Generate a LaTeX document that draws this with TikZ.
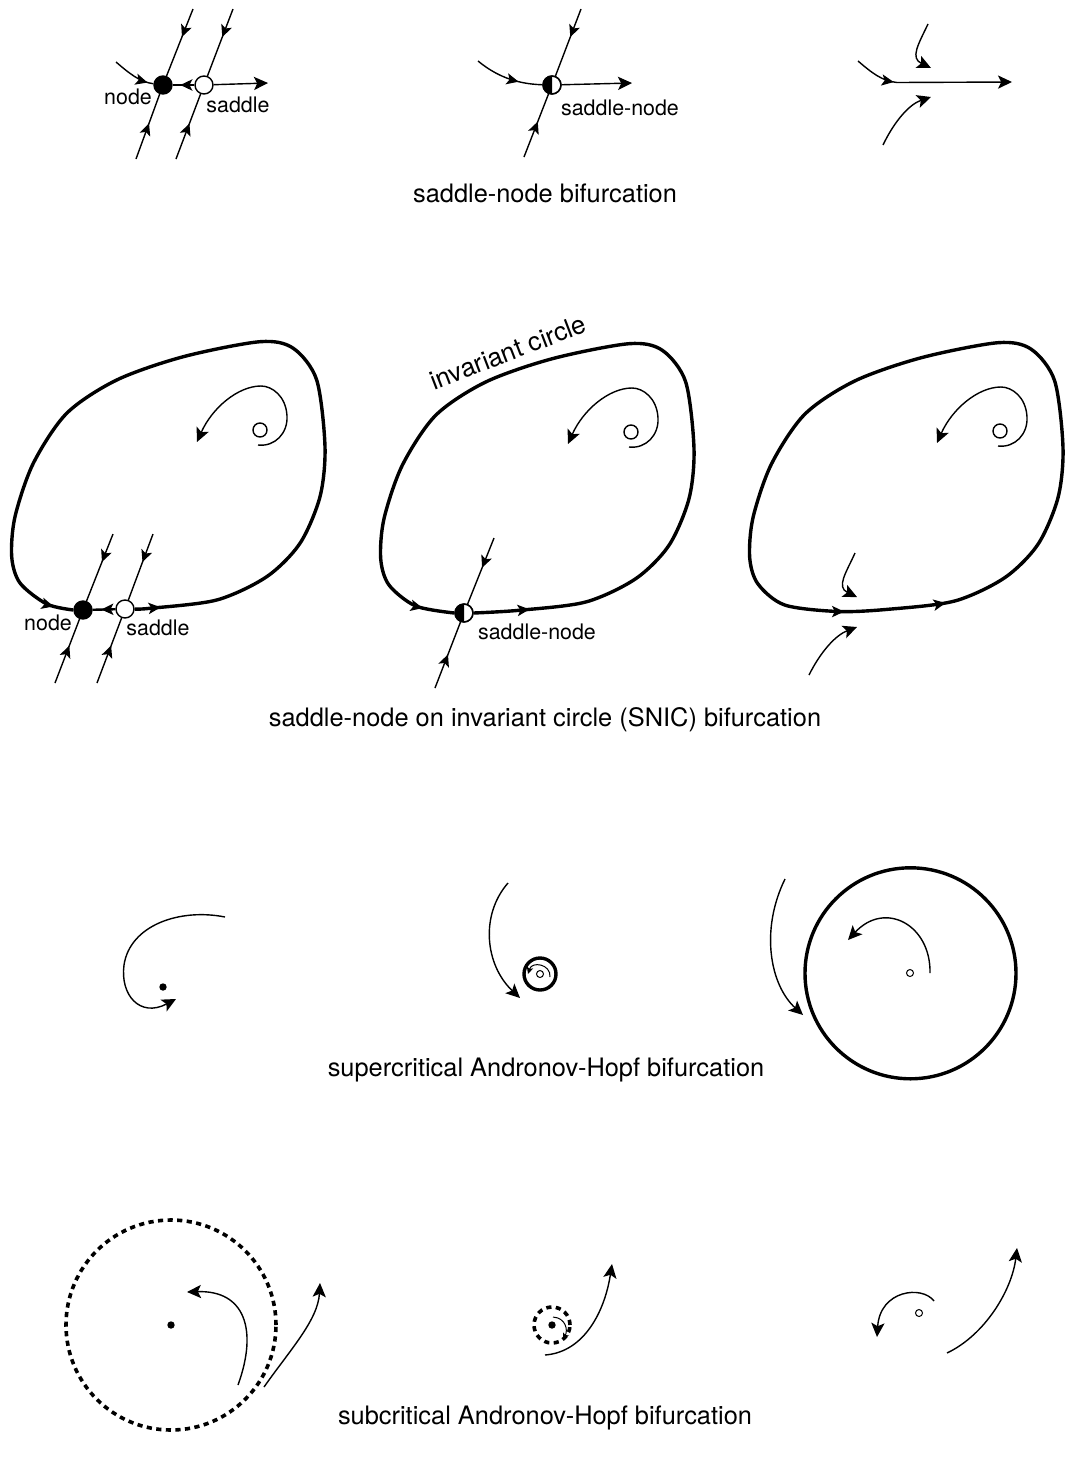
\documentclass[tikz,border=0pt]{standalone}
\usepackage{fontspec}
\setmainfont{TeX Gyre Heros}
\usetikzlibrary{arrows.meta,decorations.markings}

\newcommand{\halffill}[1]{%
  \begin{scope}
    \clip (#1.west |- #1.north) rectangle (#1.south);
    \fill (#1.center) circle[radius=4.5pt];
  \end{scope}
  \draw[line width=0.7pt] (#1.center) circle[radius=4.5pt];}

\begin{document}
\begin{tikzpicture}[x=0.5pt,y=-0.5pt,
  >={Stealth[length=6pt,width=5.6pt,inset=1.4pt]},
  flow/.style={line width=0.7pt},
  cyc/.style={line width=1.7pt},
  link/.style={line width=1.2pt},
  endtip/.style={-{Stealth[length=7pt,width=6.6pt,inset=1.6pt]}},
  smalltip/.style={-{Stealth[length=3.4pt,width=3.2pt,inset=0.7pt]}},
  midtip/.style={postaction={decorate,decoration={markings,mark=at position #1 with {\arrow{>}}}}},
  stable/.style={circle,draw,fill=black,line width=0.7pt,minimum size=9pt,inner sep=0pt},
  unstable/.style={circle,draw,fill=white,line width=0.7pt,minimum size=9pt,inner sep=0pt},
  focus/.style={circle,fill=black,minimum size=3.7pt,inner sep=0pt},
  ufocus/.style={circle,draw,fill=white,line width=0.5pt,minimum size=3.5pt,inner sep=0pt},
  lbl/.style={font=\fontsize{10.7}{12}\selectfont},
  capt/.style={font=\fontsize{12.7}{15}\selectfont},
  broken/.style={line width=1.8pt,dash pattern=on 2.6pt off 2.2pt}]
  \useasboundingbox (0,0) rectangle (1066,1462);

  % ---- saddle-node bifurcation ----
  \node[stable] (n1) at (163,85) {};
  \node[unstable] (s1) at (204,85) {};
  \coordinate (n1t) at (193,9);   \coordinate (n1b) at (136,159);
  \coordinate (s1t) at (233,9);   \coordinate (s1b) at (176,159);
  \coordinate (n1in) at (116,62); \coordinate (s1out) at (268,83);
  \draw[flow,midtip=15pt] (n1t) -- (n1);
  \draw[flow,midtip=19pt] (n1b) -- (n1);
  \draw[flow,midtip=15pt] (s1t) -- (s1);
  \draw[flow,midtip=19pt] (s1b) -- (s1);
  \draw[flow,midtip=-3pt] (n1in) .. controls (130,74) and (140,82) .. (n1);
  \draw[link,midtip=7pt] (s1) -- (n1);
  \draw[flow,endtip] (s1) -- (s1out);
  \node[lbl] (n1lbl) at (128,97) {node};
  \node[lbl] (s1lbl) at (238,105) {saddle};

  \node[unstable] (h1) at (552,85) {};
  \coordinate (h1t) at (581,9);    \coordinate (h1b) at (524,157);
  \coordinate (h1in) at (478,61);  \coordinate (h1out) at (632,83);
  \draw[flow,midtip=15pt] (h1t) -- (h1);
  \draw[flow,midtip=19pt] (h1b) -- (h1);
  \draw[flow,midtip=-12pt] (h1in) .. controls (495,75) and (515,84) .. (h1);
  \draw[flow,endtip] (h1) -- (h1out);
  \halffill{h1}
  \node[lbl] (h1lbl) at (620,108) {saddle-node};

  \coordinate (g1in) at (858,61); \coordinate (g1m) at (897,82.5);
  \coordinate (g1out) at (1012,82);
  \draw[flow,endtip,midtip=21pt] (g1in) .. controls (872,73) and (882,81) .. (g1m) -- (g1out);
  \draw[flow,endtip] (928,24) .. controls (918,45) and (910,58) .. (931,68);
  \draw[flow,endtip] (883,145) .. controls (895,120) and (910,104) .. (931,97);

  \node[capt] (cap1) at (545,193) {saddle-node bifurcation};

  % ---- SNIC bifurcation ----
  \begin{scope}
    \node[stable] (n2) at (83,610) {};
    \node[unstable] (s2) at (125,609) {};
    \coordinate (n2t) at (113,534); \coordinate (n2b) at (55,683);
    \coordinate (s2t) at (153,534); \coordinate (s2b) at (97,683);
    \draw[cyc,midtip=13pt,midtip=-10pt] plot[smooth] coordinates {(s2.east) (150,608.3) (216.7,600) (266.7,576.7) (300,543.3) (320,496.7) (325,446.7) (316.7,380) (293.3,348.3) (260,341.7) (183.3,356.7) (116.7,380) (66.7,413.3) (33.3,463.3) (15,516.7) (11.7,556.7) (20,583) (46.7,604) (n2.west)};
    \draw[link,midtip=7pt] (s2) -- (n2);
    \draw[flow,midtip=15pt] (n2t) -- (n2);
    \draw[flow,midtip=20pt] (n2b) -- (n2);
    \draw[flow,midtip=15pt] (s2t) -- (s2);
    \draw[flow,midtip=20pt] (s2b) -- (s2);
    \node[unstable,fill=none,minimum size=7pt] (u1) at (260,430) {};
    \draw[flow,endtip] (258,445) .. controls (275,447) and (288,433) .. (287,416) .. controls (286,396) and (272,386) .. (261,386) .. controls (238,386) and (212,408) .. (197,442);
    \node[lbl] (n2lbl) at (48,623) {node};
    \node[lbl] (s2lbl) at (158,628) {saddle};
  \end{scope}

  \begin{scope}[shift={(369,2)}]
    \node[unstable] (h2) at (95,611) {};
    \coordinate (h2t) at (125,536); \coordinate (h2b) at (66,686);
    \draw[cyc,midtip=28pt,midtip=-16pt] plot[smooth] coordinates {(h2.east) (150,608.3) (216.7,600) (266.7,576.7) (300,543.3) (320,496.7) (325,446.7) (316.7,380) (293.3,348.3) (260,341.7) (183.3,356.7) (116.7,380) (66.7,413.3) (33.3,463.3) (15,516.7) (11.7,556.7) (20,583) (46.7,604) (h2.west)};
    \draw[flow,midtip=16pt] (h2t) -- (h2);
    \draw[flow,midtip=18pt] (h2b) -- (h2);
    \halffill{h2}
    \node[unstable,fill=none,minimum size=7pt] (u2) at (262,430) {};
    \draw[flow,endtip] (260,445) .. controls (277,447) and (290,433) .. (289,416) .. controls (288,396) and (274,386) .. (263,386) .. controls (240,386) and (214,408) .. (199,442);
    \node[lbl] (h2lbl) at (168,630) {saddle-node};
  \end{scope}

  \begin{scope}[shift={(738,1)}]
    \draw[cyc,midtip=29pt,midtip=-22pt] plot[smooth cycle] coordinates {(100,610.5) (150,608.3) (216.7,600) (266.7,576.7) (300,543.3) (320,496.7) (325,446.7) (316.7,380) (293.3,348.3) (260,341.7) (183.3,356.7) (116.7,380) (66.7,413.3) (33.3,463.3) (15,516.7) (11.7,556.7) (20,583) (46.7,604)};
    \node[unstable,fill=none,minimum size=7pt] (u3) at (262,430) {};
    \draw[flow,endtip] (260,445) .. controls (277,447) and (290,433) .. (289,416) .. controls (288,396) and (274,386) .. (263,386) .. controls (240,386) and (214,408) .. (199,442);
    \draw[flow,endtip] (117,552) .. controls (108,572) and (98,586) .. (119,596);
    \draw[flow,endtip] (71,674) .. controls (83,650) and (98,634) .. (119,626);
  \end{scope}

  \node[font=\fontsize{13}{15}\selectfont,rotate=21] (inv) at (508,352) {invariant circle};
  \node[capt] (cap2) at (545,720) {saddle-node on invariant circle (SNIC) bifurcation};

  % ---- supercritical Andronov-Hopf ----
  \node[focus] (f1) at (163,987) {};
  \draw[flow,endtip] (225,917) .. controls (180,908) and (130,925) .. (124,965) .. controls (120,995) and (140,1018) .. (176,999);

  \node[circle,draw,cyc,minimum size=16pt,inner sep=0pt] (lc2) at (540,974) {};
  \node[ufocus] (f2) at (540,974) {};
  \draw[line width=0.5pt,smalltip] (550,977) .. controls (551,964) and (532,961) .. (528,974);
  \draw[flow,endtip] (508,883) .. controls (480,915) and (485,965) .. (520,998);

  \node[circle,draw,cyc,minimum size=105.5pt,inner sep=0pt] (lc3) at (910.5,973.3) {};
  \node[ufocus] (f3) at (910,973) {};
  \draw[flow,endtip] (930,973) .. controls (931,925) and (885,900) .. (848,940);
  \draw[flow,endtip] (785,879) .. controls (760,930) and (770,985) .. (803,1015);

  \node[capt] (cap3) at (546,1070) {supercritical Andronov-Hopf bifurcation};

  % ---- subcritical Andronov-Hopf ----
  \node[circle,draw,broken,minimum size=105pt,inner sep=0pt] (ul1) at (171,1325) {};
  \node[focus] (f4) at (171,1325) {};
  \draw[flow,endtip] (238,1385) .. controls (258,1330) and (245,1290) .. (187,1292);
  \draw[flow,endtip] (264,1387) .. controls (290,1350) and (318,1320) .. (320,1283);

  \node[circle,draw,broken,minimum size=18pt,inner sep=0pt] (ul2) at (552,1325) {};
  \node[focus] (f5) at (552,1325) {};
  \draw[line width=0.5pt,smalltip] (553,1317) .. controls (566,1318) and (568,1330) .. (563,1340);
  \draw[flow,endtip] (545,1355) .. controls (585,1352) and (605,1310) .. (612,1264);

  \node[ufocus] (f6) at (919,1313) {};
  \draw[flow,endtip] (934,1301) .. controls (922,1285) and (880,1290) .. (877,1337);
  \draw[flow,endtip] (947,1353) .. controls (985,1335) and (1012,1290) .. (1017,1248);

  \node[capt] (cap4) at (545,1418) {subcritical Andronov-Hopf bifurcation};
\end{tikzpicture}
\end{document}
